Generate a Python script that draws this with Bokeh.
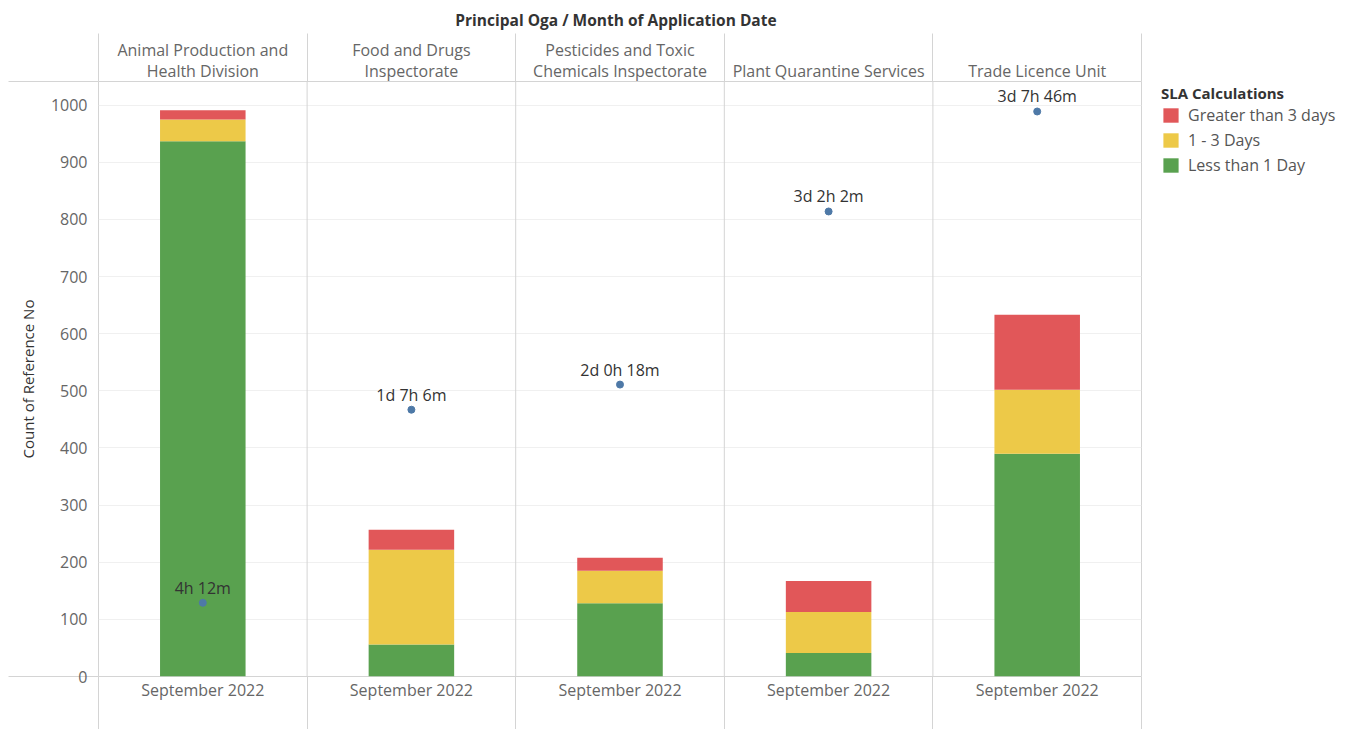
from bokeh.plotting import figure
from bokeh.layouts import row
from bokeh.models import (Range1d, LinearAxis, FixedTicker, Span,
                          Legend, LegendItem, ColumnDataSource)
from bokeh.core.properties import value
from bokeh.embed import file_html
from bokeh.resources import INLINE

# ---------------- data ----------------
departments = ["Animal Production and Health Division", "Food and Drugs Inspectorate",
               "Pesticides and Toxic Chemicals Inspectorate", "Plant Quarantine Services",
               "Trade Licence Unit"]
header_labels = ["Animal Production and\nHealth Division", "Food and Drugs\nInspectorate",
                 "Pesticides and Toxic\nChemicals Inspectorate", "Plant Quarantine Services",
                 "Trade Licence Unit"]
month_label = "September 2022"
series_names = ["Less than 1 Day", "1 - 3 Days", "Greater than 3 days"]
less_than_1_day = [937, 56, 128, 41, 390]
one_to_3_days = [38, 166, 57, 72, 112]
greater_than_3_days = [16, 35, 23, 54, 131]
avg_time_labels = ["4h 12m", "1d 7h 6m", "2d 0h 18m", "3d 2h 2m", "3d 7h 46m"]
avg_time_pos = [129, 467, 511, 814, 989]
y_ticks = [0, 100, 200, 300, 400, 500, 600, 700, 800, 900, 1000]
series_colors = ["#59a14f", "#edc948", "#e15759"]

FONT = "Open Sans"
GRID = "#d4d4d4"
Y_TOP = 1041.5
n = len(departments)
centers = [i + 0.5 for i in range(n)]   # panel centres on the panel scale
bounds = list(range(n + 1))              # panel borders

src = ColumnDataSource(dict(x=centers, dept=departments, less=less_than_1_day, mid=one_to_3_days,
                            greater=greater_than_3_days, pos=avg_time_pos, lab=avg_time_labels))

p = figure(width=1142, height=729, x_range=Range1d(0, n),
           y_range=Range1d(0, Y_TOP), output_backend="svg", toolbar_location=None,
           x_axis_location=None, min_border_left=98, min_border_top=81,
           min_border_bottom=53, min_border_right=1)
p.outline_line_color = GRID
p.background_fill_color = "white"
p.border_fill_color = "white"
p.xgrid.visible = False

# y axis
p.yaxis.ticker = FixedTicker(ticks=y_ticks, minor_ticks=[0, Y_TOP])
p.yaxis.major_tick_out = 0
p.yaxis.major_tick_in = 0
p.yaxis.minor_tick_in = 0
p.yaxis.minor_tick_out = 90
p.yaxis.minor_tick_line_color = GRID
p.yaxis.axis_line_color = None
p.yaxis.major_label_text_font = FONT
p.yaxis.major_label_text_font_size = "16px"
p.yaxis.major_label_text_color = "#666666"
p.yaxis.major_label_standoff = -79
p.yaxis.axis_label = "Count of Reference No"
p.yaxis.axis_label_text_font = FONT
p.yaxis.axis_label_text_font_size = "15px"
p.yaxis.axis_label_text_font_style = "normal"
p.yaxis.axis_label_text_color = "#333333"
p.yaxis.axis_label_standoff = 10
p.ygrid.ticker = FixedTicker(ticks=y_ticks[1:])
p.ygrid.grid_line_color = "#f0f0f0"

top_axis = LinearAxis(ticker=FixedTicker(ticks=centers, minor_ticks=bounds),
                      major_label_overrides={c: h for c, h in zip(centers, header_labels)})
top_axis.major_tick_out = 0
top_axis.major_tick_in = 0
top_axis.minor_tick_in = 0
top_axis.minor_tick_out = 48
top_axis.minor_tick_line_color = GRID
top_axis.axis_line_color = None
top_axis.major_label_text_font = FONT
top_axis.major_label_text_font_size = "16px"
top_axis.major_label_text_color = "#666666"
top_axis.major_label_text_line_height = 0.95
top_axis.major_label_standoff = -48
top_axis.major_label_orientation = "horizontal"
top_axis.axis_label = "Principal Oga  /  Month of Application Date"
top_axis.axis_label_text_font = FONT
top_axis.axis_label_text_font_size = "15.5px"
top_axis.axis_label_text_font_style = "bold"
top_axis.axis_label_text_color = "#333333"
top_axis.axis_label_standoff = 5
p.add_layout(top_axis, "above")

bottom_axis = LinearAxis(ticker=FixedTicker(ticks=centers, minor_ticks=bounds),
                         major_label_overrides={c: month_label for c in centers})
bottom_axis.major_tick_out = 0
bottom_axis.major_tick_in = 0
bottom_axis.minor_tick_in = 0
bottom_axis.minor_tick_out = 53
bottom_axis.minor_tick_line_color = GRID
bottom_axis.axis_line_color = None
bottom_axis.major_label_text_font = FONT
bottom_axis.major_label_text_font_size = "16px"
bottom_axis.major_label_text_color = "#666666"
bottom_axis.major_label_standoff = -51
bottom_axis.major_label_orientation = "horizontal"
p.add_layout(bottom_axis, "below")

for b in bounds[1:-1]:
    p.add_layout(Span(location=b, dimension="height", line_color=GRID, line_width=1))

p.vbar_stack(["less", "mid", "greater"], x="x", width=0.41, color=series_colors,
             line_color=None, source=src)

p.scatter(x="x", y="pos", size=7, color="#4e79a7", source=src)
p.text(x="x", y="pos", text="lab", source=src, text_align="center",
       text_baseline="bottom", y_offset=-4, text_font=value(FONT),
       text_font_size="16px", text_color="#333333")

# ---------------- legend panel (separate figure to the right) ----------------
lg = figure(width=206, height=729, x_range=Range1d(-10, -9), y_range=Range1d(0, 1),
            output_backend="svg", toolbar_location=None, x_axis_location=None,
            y_axis_location=None, min_border=0)
lg.outline_line_color = None
lg.xgrid.visible = False
lg.ygrid.visible = False
lg_rs = lg.vbar_stack(["less", "mid", "greater"], x="x", width=0.41, color=series_colors,
                      line_color=None, source=src)

legend = Legend(items=[LegendItem(label=series_names[i], renderers=[lg_rs[i]]) for i in [2, 1, 0]],
                location=(19, 500), title="SLA Calculations",
                title_text_font=FONT, title_text_font_size="15px",
                title_text_font_style="bold", title_text_color="#333333",
                label_text_font=FONT, label_text_font_size="16px",
                label_text_color="#555555", glyph_width=19, glyph_height=18,
                label_height=18, spacing=3, padding=0, margin=0,
                border_line_color=None, background_fill_alpha=0, title_standoff=1,
                label_standoff=8)
lg.add_layout(legend)

layout = row(p, lg, spacing=0)
open("out.html", "w").write(file_html(layout, INLINE))
